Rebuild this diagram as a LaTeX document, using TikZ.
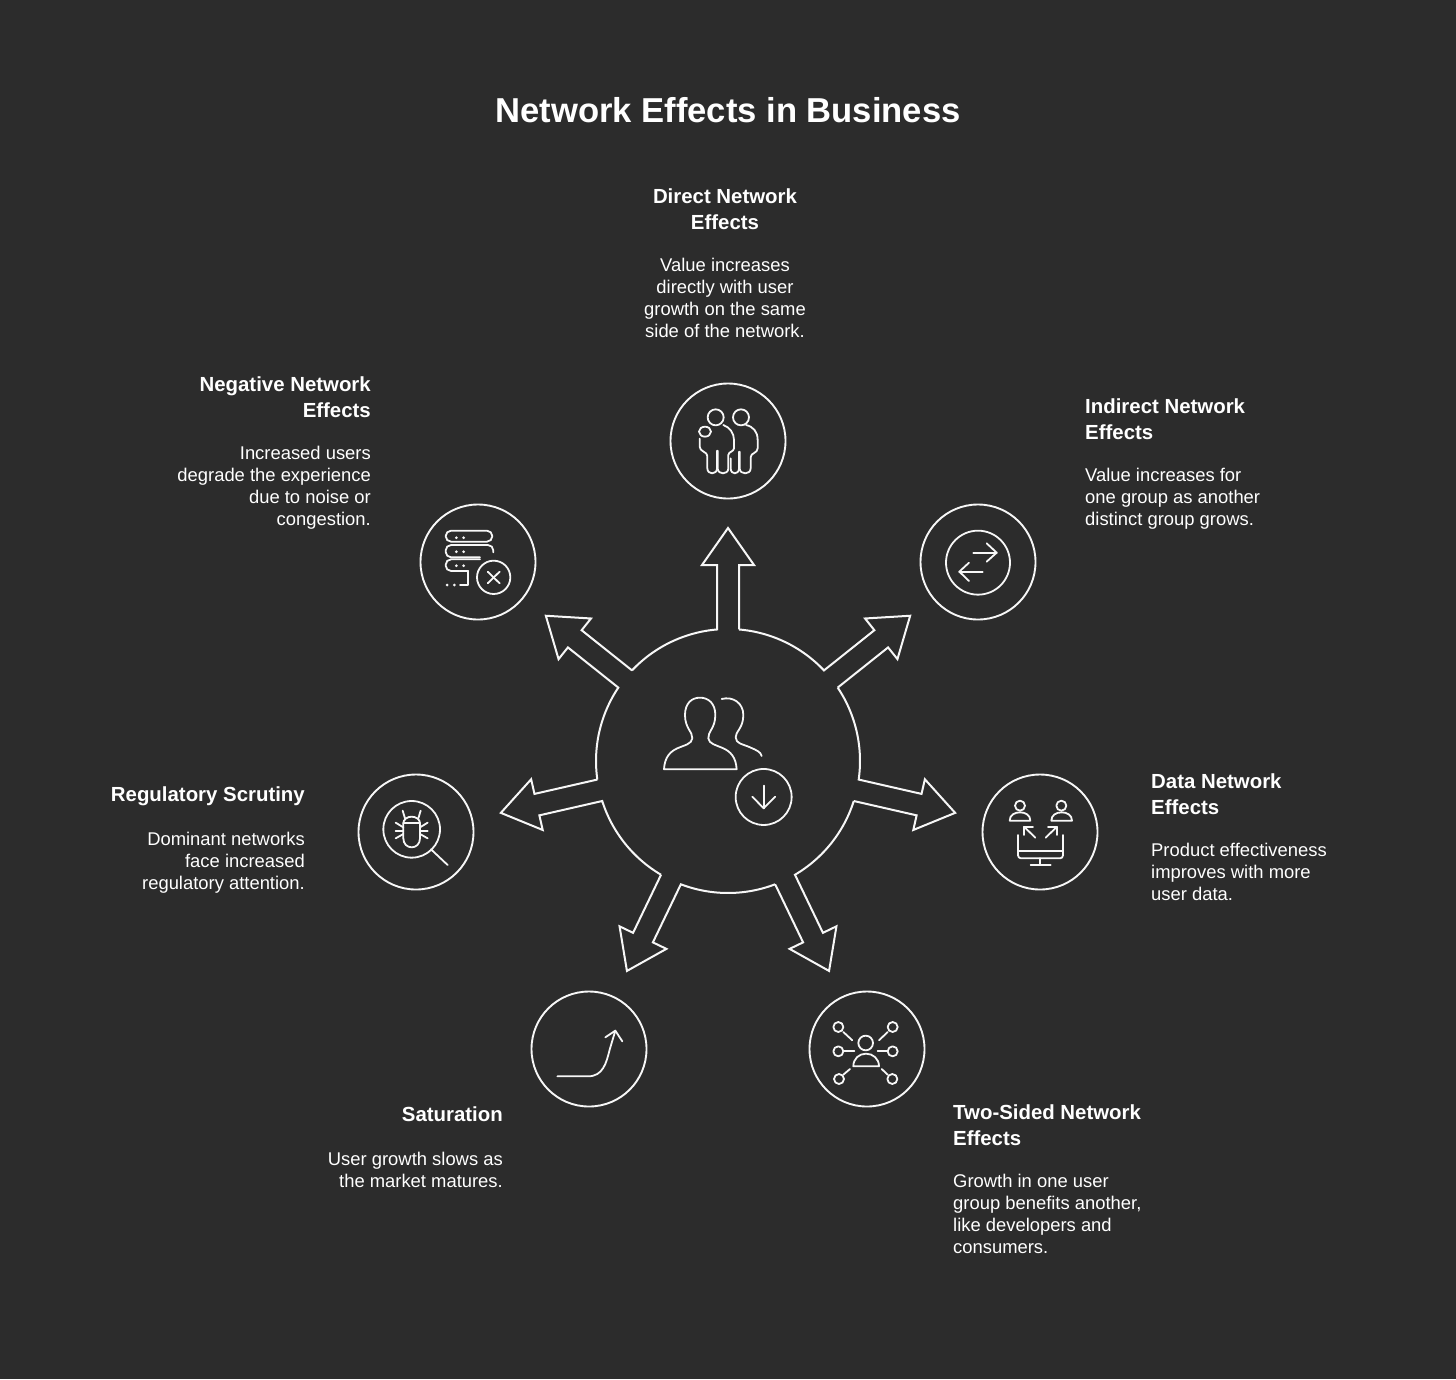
\documentclass[tikz,border=0pt]{standalone}
\usepackage{fontspec}
\setmainfont{Liberation Sans}
\usetikzlibrary{positioning}

\definecolor{bgdark}{HTML}{2C2C2C}
\definecolor{inkwhite}{HTML}{F7F7F7}

\tikzset{
    ring/.style={circle, draw=inkwhite, line width=1.9pt, minimum size=115pt, inner sep=0pt},
    glyph/.style={draw=inkwhite, line width=1.8pt, line cap=round, line join=round},
    hubline/.style={draw=inkwhite, line width=2pt, line join=miter},
    titletext/.style={font=\fontsize{34.6}{40}\selectfont\bfseries, text=white, inner sep=0pt},
    headtext/.style={font=\fontsize{20.4}{26}\selectfont\bfseries, text=white, inner sep=0pt},
    bodytext/.style={font=\fontsize{18.4}{22}\selectfont, text=white, inner sep=0pt}
}

\begin{document}
\begin{tikzpicture}[x=1pt, y=-1pt]
    \useasboundingbox (0,0) rectangle (1456,1379);
    \fill[bgdark] (0,0) rectangle (1456,1379);

    % Title
    \node (title) [titletext, anchor=base] at (728,122) {Network Effects in Business};

    % Rings
    \coordinate (hub) at (728,761);
    \node (direct) [ring] at (728,441) {};
    \node (indirect) [ring] at (978,562) {};
    \node (data) [ring] at (1040,832) {};
    \node (twosided) [ring] at (867,1049) {};
    \node (saturation) [ring] at (589,1049) {};
    \node (regulatory) [ring] at (416,832) {};
    \node (negative) [ring] at (478,562) {};

    % Hub outline with its seven arrows
    \begin{scope}[shift={(hub)}, y=1pt]
        \foreach \ang in {90, 38.57, -12.86, -64.29, -115.71, -167.14, 141.43} {
            \begin{scope}[rotate=\ang]
                \draw[hubline] (-4.78:132) -- (196,-11) -- (196,-26) -- (233,0) -- (196,26) -- (196,11) -- (4.78:132)
                    arc[start angle=4.78, end angle=46.65, radius=132];
            \end{scope}
        }
    \end{scope}

    % Hub icon
    \begin{scope}[shift={(590,520)}, scale=0.3333]
        \draw[glyph] (222,748) .. controls (224,712) and (240,695) .. (262,685)
            .. controls (285,675) and (305,672) .. (307,655)
            .. controls (308,635) and (285,625) .. (285,585)
            .. controls (285,550) and (305,533) .. (330,533)
            .. controls (355,533) and (376,550) .. (376,585)
            .. controls (376,625) and (353,635) .. (355,655)
            .. controls (357,672) and (378,675) .. (400,685)
            .. controls (422,695) and (438,712) .. (440,748) -- cycle;
        \draw[glyph] (395,537) .. controls (430,528) and (460,550) .. (460,585)
            .. controls (460,625) and (436,635) .. (437,652)
            .. controls (438,672) and (458,672) .. (480,682)
            .. controls (498,690) and (512,695) .. (515,708);
        \draw[glyph] (521,831) circle[radius=84];
        \draw[glyph] (521,797) -- (521,865);
        \draw[glyph] (487,830) -- (521,865) -- (556,830);
    \end{scope}

    % Direct icon
    \begin{scope}[shift={(665,380)}, scale=0.3333]
        \draw[glyph] (152,112) circle[radius=24];
        \draw[glyph] (228,112) circle[radius=24];
        \draw[glyph] (120,155) ellipse[x radius=18, y radius=15];
        \draw[glyph] (175,135) .. controls (195,142) and (207,160) .. (207,180) -- (207,205)
            .. controls (207,215) and (190,215) .. (190,225) -- (190,265)
            .. controls (190,285) and (158,285) .. (158,265) -- (158,212);
        \draw[glyph] (156,212) -- (156,265) .. controls (156,285) and (127,285) .. (127,265) -- (127,228)
            .. controls (127,215) and (104,215) .. (104,200) -- (104,176);
        \draw[glyph] (243,135) .. controls (265,140) and (278,155) .. (278,180) -- (278,205)
            .. controls (278,220) and (257,218) .. (257,232) -- (257,265)
            .. controls (257,285) and (224,285) .. (224,265) -- (224,215);
        \draw[glyph] (222,215) -- (222,265) .. controls (222,285) and (197,285) .. (197,265) -- (197,235);
    \end{scope}

    % Indirect icon
    \begin{scope}[shift={(915,500)}, scale=0.3333]
        \draw[glyph] (189,188) circle[radius=96];
        \draw[glyph] (175,158) -- (245,158);
        \draw[glyph] (215,130) -- (245,158) -- (215,185);
        \draw[glyph] (203,215) -- (133,215);
        \draw[glyph] (162,188) -- (133,215) -- (162,243);
    \end{scope}

    % Data icon
    \begin{scope}[shift={(978,770)}, scale=0.3333]
        \draw[glyph] (126,107) circle[radius=15];
        \draw[glyph] (95,152) .. controls (95,135) and (110,127) .. (126,127)
            .. controls (142,127) and (157,135) .. (157,152) -- cycle;
        \draw[glyph] (250,107) circle[radius=15];
        \draw[glyph] (220,152) .. controls (220,135) and (235,127) .. (251,127)
            .. controls (267,127) and (282,135) .. (282,152) -- cycle;
        \draw[glyph] (172,203) -- (138,170);
        \draw[glyph] (165,170) -- (138,170) -- (138,195);
        \draw[glyph] (203,203) -- (237,170);
        \draw[glyph] (210,170) -- (237,170) -- (237,195);
        \draw[glyph, rounded corners=3pt] (120,195) -- (120,265) -- (255,265) -- (255,195);
        \draw[glyph] (120,242) -- (255,242);
        \draw[glyph] (187,265) -- (187,285);
        \draw[glyph] (158,285) -- (218,285);
    \end{scope}

    % Two-sided icon
    \begin{scope}[shift={(805,988)}, scale=0.3333]
        \draw[glyph] (182,165) circle[radius=22];
        \draw[glyph] (145,235) .. controls (145,212) and (162,197) .. (183,197)
            .. controls (204,197) and (222,212) .. (222,235) -- cycle;
        \foreach \sx/\sy in {100/117, 263/117, 100/190, 263/190, 102/273, 262/273} {
            \draw[glyph] (\sx,\sy) circle[radius=15];
        }
        \draw[glyph] (115,132) -- (142,157);
        \draw[glyph] (248,132) -- (222,157);
        \draw[glyph] (118,190) -- (148,190);
        \draw[glyph] (248,190) -- (218,190);
        \draw[glyph] (115,260) -- (135,243);
        \draw[glyph] (248,260) -- (230,243);
    \end{scope}

    % Saturation icon
    \begin{scope}[shift={(528,988)}, scale=0.3333]
        \draw[glyph] (88,265) -- (180,265) .. controls (225,265) and (235,225) .. (245,185) -- (262,128);
        \draw[glyph] (232,148) -- (262,128) -- (283,160);
    \end{scope}

    % Regulatory icon
    \begin{scope}[shift={(355,770)}, scale=0.3333]
        \draw[glyph] (170,178) circle[radius=85];
        \draw[glyph] (228,238) -- (278,285);
        \draw[glyph] (145,160) .. controls (145,148) and (157,140) .. (170,140)
            .. controls (183,140) and (195,148) .. (195,160) -- (195,205)
            .. controls (195,222) and (183,232) .. (170,232)
            .. controls (157,232) and (145,222) .. (145,205) -- cycle;
        \draw[glyph] (145,160) -- (195,160);
        \draw[glyph] (143,122) -- (150,145);
        \draw[glyph] (197,122) -- (190,145);
        \draw[glyph] (122,158) -- (145,172);
        \draw[glyph] (122,182) -- (145,182);
        \draw[glyph] (122,205) -- (145,192);
        \draw[glyph] (218,158) -- (195,172);
        \draw[glyph] (218,182) -- (195,182);
        \draw[glyph] (218,205) -- (195,192);
    \end{scope}

    % Negative icon
    \begin{scope}[shift={(415,500)}, scale=0.3333]
        \draw[glyph, rounded corners=5.4pt] (92,92) -- (232,92) -- (232,125) -- (92,125) -- cycle;
        \draw[glyph, rounded corners=5.4pt] (235,157) -- (235,135) -- (92,135) -- (92,172) -- (195,172);
        \draw[glyph, rounded corners=5.4pt] (195,178) -- (92,178) -- (92,213) -- (160,213);
        \draw[glyph] (160,213) -- (160,255) -- (135,255);
        \foreach \dy in {113, 155, 197} {
            \fill[inkwhite] (124,\dy) circle[radius=4.5];
            \fill[inkwhite] (146,\dy) circle[radius=4.5];
        }
        \fill[inkwhite] (96,255) circle[radius=4.5];
        \fill[inkwhite] (118,255) circle[radius=4.5];
        \draw[glyph] (236,232) circle[radius=50];
        \draw[glyph] (218,215) -- (254,250);
        \draw[glyph] (254,215) -- (218,250);
    \end{scope}

    % Labels
    \node (directhead) [headtext, align=center, anchor=base] at (725,229) {Direct Network\\Effects};
    \node (directbody) [bodytext, align=center, anchor=base] at (725,337) {Value increases\\directly with user\\growth on the same\\side of the network.};

    \node (indirecthead) [headtext, align=left, anchor=base west] at (1085,439) {Indirect Network\\Effects};
    \node (indirectbody) [bodytext, align=left, anchor=base west] at (1085,525) {Value increases for\\one group as another\\distinct group grows.};

    \node (datahead) [headtext, align=left, anchor=base west] at (1151,814) {Data Network\\Effects};
    \node (databody) [bodytext, align=left, anchor=base west] at (1151,900) {Product effectiveness\\improves with more\\user data.};

    \node (twohead) [headtext, align=left, anchor=base west] at (953,1145) {Two-Sided Network\\Effects};
    \node (twobody) [bodytext, align=left, anchor=base west] at (953,1253) {Growth in one user\\group benefits another,\\like developers and\\consumers.};

    \node (sathead) [headtext, align=right, anchor=base east] at (503,1121) {Saturation};
    \node (satbody) [bodytext, align=right, anchor=base east] at (503,1187) {User growth slows as\\the market matures.};

    \node (reghead) [headtext, align=right, anchor=base east] at (305,801) {Regulatory Scrutiny};
    \node (regbody) [bodytext, align=right, anchor=base east] at (305,889) {Dominant networks\\face increased\\regulatory attention.};

    \node (neghead) [headtext, align=right, anchor=base east] at (371,417) {Negative Network\\Effects};
    \node (negbody) [bodytext, align=right, anchor=base east] at (371,525) {Increased users\\degrade the experience\\due to noise or\\congestion.};
\end{tikzpicture}
\end{document}
